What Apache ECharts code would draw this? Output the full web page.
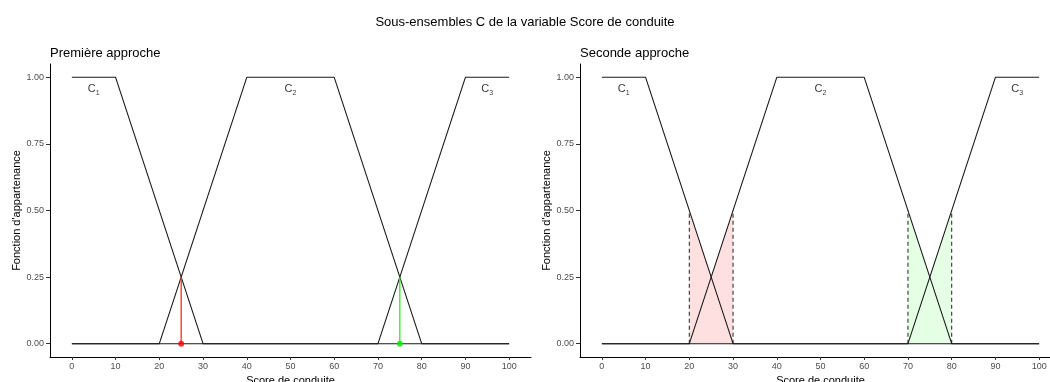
<!DOCTYPE html>
<html>
<head>
<meta charset="utf-8">
<script src="https://cdn.jsdelivr.net/npm/echarts@6/dist/echarts.min.js"></script>
<style>
  html, body { margin: 0; padding: 0; background: #fff; }
  #main { width: 1050px; height: 382px; }
</style>
</head>
<body>
<div id="main"></div>
<script>
// sous-ensembles flous (score, appartenance)
var c1 = [[0, 1], [10, 1], [30, 0], [100, 0]];
var c2 = [[0, 0], [20, 0], [40, 1], [60, 1], [80, 0], [100, 0]];
var c3 = [[0, 0], [70, 0], [90, 1], [100, 1]];

// étiquettes C1, C2, C3
var setNames = ["1", "2", "3"];
var setLabelX = [5, 50, 95];
var setLabelY = 0.955;

// première approche : points de coupure
var redCut = [[25, 0], [25, 0.25]];
var greenCut = [[75, 0], [75, 0.25]];

// seconde approche : zones
var redZone = [[20, 0.5], [25, 0.25], [30, 0.5]];
var greenZone = [[70, 0.5], [75, 0.25], [80, 0.5]];
var redBounds = [[[20, 0], [20, 0.5]], [[30, 0], [30, 0.5]]];
var greenBounds = [[[70, 0], [70, 0.5]], [[80, 0], [80, 0.5]]];

var xTicks = [0, 10, 20, 30, 40, 50, 60, 70, 80, 90, 100];
var yTicks = [0, 0.25, 0.5, 0.75, 1];

var font = "Liberation Sans";

function xAxisFor(idx) {
  return {
    gridIndex: idx, type: "value", min: -5, max: 105,
    name: "Score de conduite", nameLocation: "middle", nameGap: 15,
    nameTextStyle: { color: "#000", fontSize: 11, fontFamily: font },
    axisLine: { show: true, onZero: false, lineStyle: { color: "#000", width: 1 } },
    axisTick: { show: true, customValues: xTicks, length: 3, lineStyle: { color: "#333" } },
    axisLabel: { customValues: xTicks, color: "#4d4d4d", fontSize: 9, margin: 5, fontFamily: font },
    splitLine: { show: false }
  };
}
function yAxisFor(idx) {
  return {
    gridIndex: idx, type: "value", min: -0.05, max: 1.05,
    name: "Fonction d'appartenance", nameLocation: "middle", nameGap: 26,
    nameTextStyle: { color: "#000", fontSize: 11, fontFamily: font },
    axisLine: { show: true, onZero: false, lineStyle: { color: "#000", width: 1 } },
    axisTick: { show: true, customValues: yTicks, length: 4, lineStyle: { color: "#333" } },
    axisLabel: { customValues: yTicks, color: "#4d4d4d", fontSize: 9, margin: 6, fontFamily: font,
      formatter: function (v) { return v.toFixed(2); } },
    splitLine: { show: false }
  };
}

function setLine(data, idx) {
  return {
    type: "line", xAxisIndex: idx, yAxisIndex: idx, data: data, symbol: "none",
    lineStyle: { color: "#1a1a1a", width: 1.1 }, z: 5, silent: true
  };
}
function setLabels(idx) {
  return {
    type: "scatter", xAxisIndex: idx, yAxisIndex: idx, symbolSize: 0, silent: true,
    data: setLabelX.map(function (x, i) { return { value: [x, setLabelY], sub: setNames[i] }; }),
    label: {
      show: true, position: "inside",
      formatter: function (p) { return "{c|C}{s|" + p.data.sub + "}"; },
      rich: {
        c: { fontSize: 11, color: "#000", fontFamily: font },
        s: { fontSize: 7, color: "#000", fontFamily: font, verticalAlign: "bottom", padding: [7, 0, 0, 0] }
      }
    }
  };
}
function zone(data, idx, color) {
  return {
    type: "line", xAxisIndex: idx, yAxisIndex: idx, data: data, symbol: "none", silent: true,
    lineStyle: { width: 0 }, areaStyle: { color: color, origin: 0, opacity: 1 }, z: 1
  };
}
function bound(data, idx) {
  return {
    type: "line", xAxisIndex: idx, yAxisIndex: idx, data: data, symbol: "none", silent: true,
    lineStyle: { color: "#333", width: 1.1, type: [4, 3] }, z: 4
  };
}

var series = [
  setLine(c1, 0), setLine(c2, 0), setLine(c3, 0), setLabels(0),
  { type: "line", xAxisIndex: 0, yAxisIndex: 0, data: redCut, symbol: "none", silent: true,
    lineStyle: { color: "#ff2a2a", width: 1.3 }, z: 6 },
  { type: "line", xAxisIndex: 0, yAxisIndex: 0, data: greenCut, symbol: "none", silent: true,
    lineStyle: { color: "#22ee22", width: 1.3 }, z: 6 },
  { type: "scatter", xAxisIndex: 0, yAxisIndex: 0, data: [redCut[0]], symbolSize: 6, silent: true,
    itemStyle: { color: "#ff0000" }, z: 7 },
  { type: "scatter", xAxisIndex: 0, yAxisIndex: 0, data: [greenCut[0]], symbolSize: 6, silent: true,
    itemStyle: { color: "#00ee00" }, z: 7 },

  zone(redZone, 1, "rgba(255,0,0,0.12)"),
  zone(greenZone, 1, "rgba(0,255,0,0.1)"),
  setLine(c1, 1), setLine(c2, 1), setLine(c3, 1), setLabels(1)
];
redBounds.concat(greenBounds).forEach(function (b) { series.push(bound(b, 1)); });

var chart = echarts.init(document.getElementById("main"), null, { renderer: "canvas" });
chart.setOption({
  animation: false,
  backgroundColor: "#fff",
  title: [
    { text: "Sous-ensembles C de la variable Score de conduite", left: "center", top: 11,
      textStyle: { fontSize: 13, fontWeight: "normal", color: "#000", fontFamily: font } },
    { text: "Première approche", left: 45, top: 42,
      textStyle: { fontSize: 13, fontWeight: "normal", color: "#000", fontFamily: font } },
    { text: "Seconde approche", left: 575, top: 42,
      textStyle: { fontSize: 13, fontWeight: "normal", color: "#000", fontFamily: font } }
  ],
  grid: [
    { left: 50, top: 64, width: 481, height: 293, outerBoundsMode: "none", containLabel: false },
    { left: 580, top: 64, width: 481, height: 293, outerBoundsMode: "none", containLabel: false }
  ],
  xAxis: [xAxisFor(0), xAxisFor(1)],
  yAxis: [yAxisFor(0), yAxisFor(1)],
  series: series
});
</script>
</body>
</html>
